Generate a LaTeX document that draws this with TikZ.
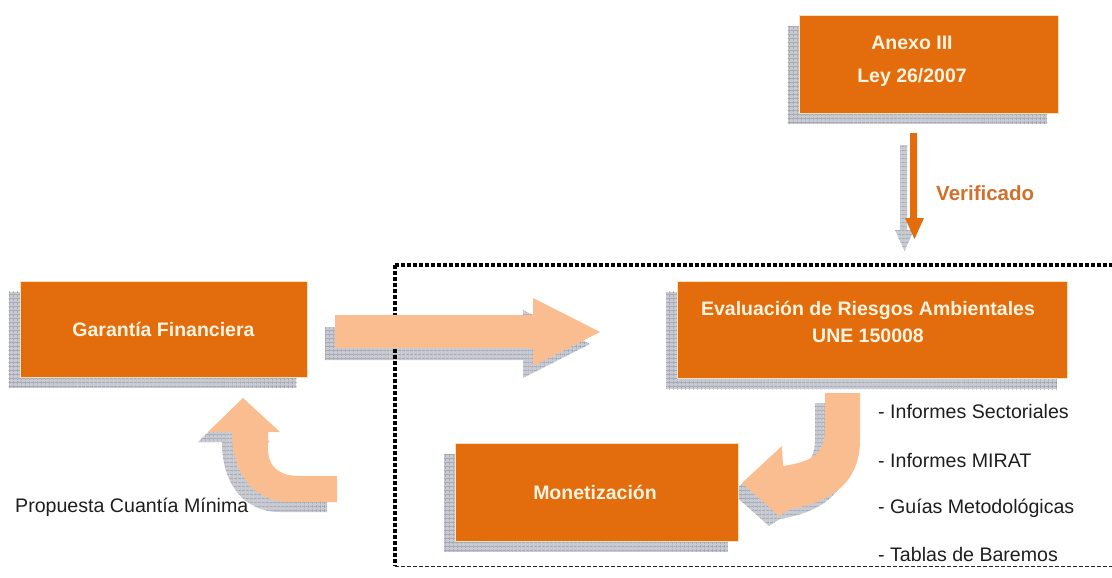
\documentclass[tikz,border=0pt]{standalone}
\usepackage{fontspec}
\setmainfont{Liberation Sans}
\usetikzlibrary{patterns.meta,backgrounds}
\definecolor{boxorange}{RGB}{227,108,12}
\definecolor{peach}{RGB}{250,189,143}
\definecolor{boxtext}{RGB}{255,244,224}
\definecolor{verif}{RGB}{208,112,44}
\definecolor{shgray}{RGB}{200,203,212}
\definecolor{gridgray}{RGB}{150,152,160}
\definecolor{edge}{RGB}{252,226,184}
\definecolor{darktext}{RGB}{30,30,30}
\tikzset{
  orangebox/.style={rectangle, fill=boxorange, draw=edge, line width=0.8pt, inner sep=0pt},
  boxlabel/.style={text=boxtext, font=\fontsize{19.5}{27}\selectfont\bfseries, align=center, inner sep=0pt},
  plainlabel/.style={text=darktext, font=\fontsize{19.6}{22}\selectfont, inner sep=0pt},
  shadowfill/.style={preaction={fill=shgray},
    pattern={Lines[angle=0,distance=4pt,line width=0.6pt]}, pattern color=gridgray,
    postaction={pattern={Lines[angle=90,distance=4pt,line width=0.6pt]}, pattern color=gridgray}},
  peacharrow/.style={fill=peach},
  framedot/.style={line width=4pt, dash pattern=on 4pt off 2pt, draw=black},
  framedash/.style={line width=1pt, dash pattern=on 4pt off 2pt, draw=black!85},
}
\begin{document}
\begin{tikzpicture}[x=1pt,y=-1pt]
\useasboundingbox (0,0) rectangle (1112,578);
% dotted frame
\coordinate (fTL) at (395,265);
\coordinate (fTR) at (1112,265);
\coordinate (fBL) at (395,566);
\coordinate (fBR) at (1112,566);
\draw[framedot] (fTL) -- (fTR);
\draw[framedot] (fTL) -- (fBL);
\draw[framedash] (fBL) -- (fBR);

% boxes
\node[orangebox, minimum width=259pt, minimum height=98pt] (anexo) at (928.5,64) {};
\node[orangebox, minimum width=287pt, minimum height=96pt] (garantia) at (163.5,329) {};
\node[orangebox, minimum width=390pt, minimum height=97pt] (evaluacion) at (872.5,329.5) {};
\node[orangebox, minimum width=283pt, minimum height=98pt] (monet) at (597,492) {};

% box texts
\node[boxlabel, font=\fontsize{19.5}{33}\selectfont\bfseries] (anexoT) at (912,61.5) {Anexo III\\Ley 26/2007};
\node[boxlabel] (garantiaT) at (163.5,329) {Garantía Financiera};
\node[boxlabel] (evaluacionT) at (868,321.5) {Evaluación de Riesgos Ambientales\\UNE 150008};
\node[boxlabel] (monetT) at (595,492) {Monetización};

% Verificado arrow
\fill[boxorange] (910,133) -- (917,133) -- (917,218) -- (924,218) -- (914.5,239) -- (905,218) -- (910,218) -- cycle;
\node[text=verif, font=\fontsize{20.5}{22}\selectfont\bfseries, anchor=west, inner sep=0pt] (verificado) at (936,193) {Verificado};

% big right arrow
\path[peacharrow] (335,315) -- (533,315) -- (533,298) -- (600,332) -- (533,366) -- (533,348) -- (335,348) -- cycle;

% curved arrow up into Garantia
\path[peacharrow] (243,398) -- (280,432) -- (268,432) -- (268,448)
  .. controls (268,468) and (280,476) .. (300,476) -- (337,476) -- (337,502) -- (290,502)
  .. controls (255,502) and (232,475) .. (232,432) -- (208,432) -- cycle;

% curved arrow down into Monetizacion
\path[peacharrow] (825,393) -- (860,393) -- (860,440)
  .. controls (860,482) and (832,502) .. (790,509) -- (779,516) -- (742,483) -- (782,446) -- (783,466)
  .. controls (810,462) and (825,455) .. (825,430) -- cycle;

% labels
\node[plainlabel, anchor=west] (propuesta) at (15,507) {Propuesta Cuantía Mínima};
\node[plainlabel, anchor=west] (l1) at (878,411) {- Informes Sectoriales};
\node[plainlabel, anchor=west] (l2) at (878,461) {- Informes MIRAT};
\node[plainlabel, anchor=west] (l3) at (878,508) {- Guías Metodológicas};
\node[plainlabel, anchor=west] (l4) at (878,554) {- Tablas de Baremos};

% shadows
\begin{scope}[on background layer]
  \foreach \b in {anexo,garantia,evaluacion,monet}{
    \path[shadowfill] ([shift={(-11,11)}]\b.north west) rectangle ([shift={(-11,11)}]\b.south east);
  }
  \path[shadowfill] (900,145) -- (907,145) -- (907,230) -- (914,230) -- (904.5,251) -- (895,230) -- (900,230) -- cycle;
  \begin{scope}[shift={(-10,12)}]
    \path[shadowfill] (335,315) -- (533,315) -- (533,298) -- (600,332) -- (533,366) -- (533,348) -- (335,348) -- cycle;
  \end{scope}
  \begin{scope}[shift={(-10,10)}]
    \path[shadowfill] (243,398) -- (280,432) -- (268,432) -- (268,448)
      .. controls (268,468) and (280,476) .. (300,476) -- (337,476) -- (337,502) -- (290,502)
      .. controls (255,502) and (232,475) .. (232,432) -- (208,432) -- cycle;
    \path[shadowfill] (825,393) -- (860,393) -- (860,440)
      .. controls (860,482) and (832,502) .. (790,509) -- (779,516) -- (742,483) -- (782,446) -- (783,466)
      .. controls (810,462) and (825,455) .. (825,430) -- cycle;
  \end{scope}
\end{scope}
\end{tikzpicture}
\end{document}
